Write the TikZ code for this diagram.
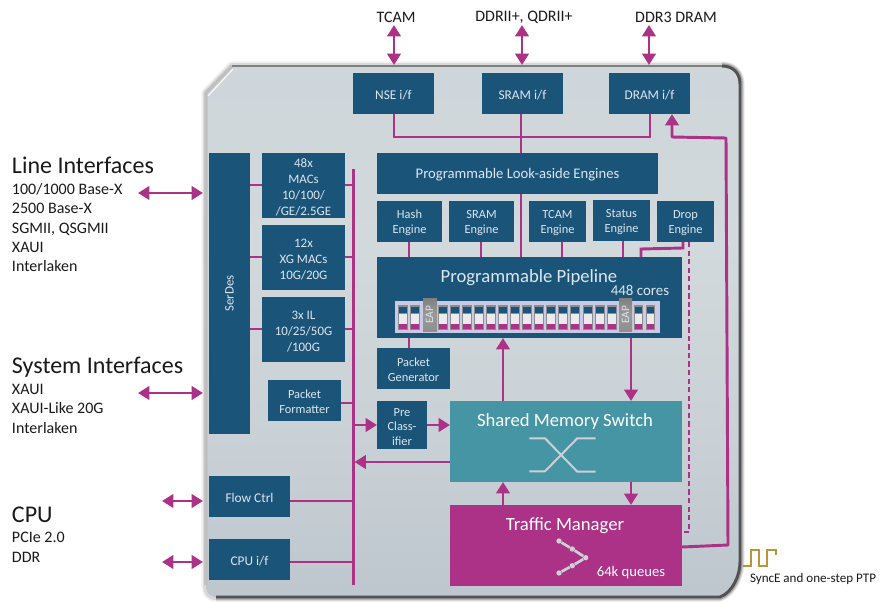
\documentclass[tikz,border=0pt]{standalone}
\usepackage{fontspec}
\setmainfont{Carlito}
\usetikzlibrary{arrows.meta,calc}
\definecolor{boxblue}{HTML}{1B5479}
\definecolor{boxtext}{HTML}{DCE6EE}
\definecolor{mag}{HTML}{AB3287}
\definecolor{tealbox}{HTML}{4695A5}
\definecolor{gold}{HTML}{B8973A}
\definecolor{iconcol}{HTML}{CDD1D5}
\definecolor{c0}{HTML}{A4ADB7}
\definecolor{c1}{HTML}{BAC3CB}
\definecolor{c2}{HTML}{C9D1D6}
\definecolor{c3}{HTML}{D1D9DC}
\definecolor{c4}{HTML}{CDD5DA}
\definecolor{c5}{HTML}{BEC5CC}
\pgfdeclareverticalshading{chipfill}{100bp}{
  color(0bp)=(c0); color(20bp)=(c1); color(40bp)=(c2); color(58bp)=(c3);
  color(80bp)=(c4); color(100bp)=(c5)}
\pgfdeclareverticalshading{eapfill}{100bp}{
  color(0bp)=(black!48); color(50bp)=(black!40); color(100bp)=(black!60)}
\tikzset{
  x=.75pt,y=-.75pt,
  box/.style={fill=boxblue,text=boxtext,inner sep=0pt,outer sep=0pt,align=center,font=\fontsize{9.3}{11.2}\selectfont},
  mid/.style={font=\fontsize{10}{12}\selectfont},
  big/.style={font=\fontsize{14}{16}\selectfont},
  link/.style={draw=mag,line width=2.2pt},
  thin link/.style={draw=mag,line width=1.6pt},
  arr/.style={link,-{Triangle[length=8.5pt,width=10pt]}},
  dbl/.style={link,{Triangle[length=8.5pt,width=10pt]}-{Triangle[length=8.5pt,width=10pt]}},
  ext/.style={inner sep=0pt,outer sep=0pt,text=black!90,anchor=mid west,font=\fontsize{12}{14}\selectfont},
  head/.style={ext,font=\fontsize{18}{20}\selectfont},
  top/.style={inner sep=0pt,text=black!90,font=\fontsize{12}{14}\selectfont},
  inlabel/.style={inner sep=0pt,text=white,font=\fontsize{14}{16}\selectfont},
  iconline/.style={draw=iconcol,line width=1.5pt},
  icondot/.style={circle,fill=iconcol,inner sep=0pt,minimum size=4pt},
}
\newcommand\up{\rule{0pt}{9pt}}
\newcommand\bx[7][]{\node[box,#1,minimum width={(#5-#3)*0.75pt},minimum height={(#6-#4)*0.75pt}] (#2) at ({(#3+#5)/2},{(#4+#6)/2}) {#7};}
\newcommand\chippath{(206,93) -- (232,66) -- (722,66) .. controls (733,66) and (740,73) .. (740,84) -- (740,562) .. controls (740,575) and (733,592) .. (720,597) -- (216,597) .. controls (209,597) and (206,592) .. (206,585) -- cycle}
\newcommand\edgepath{(722,66) .. controls (733,66) and (740,73) .. (740,84) -- (740,562) .. controls (740,575) and (733,592) .. (720,597) -- (216,597)}
\begin{document}
\begin{tikzpicture}
\useasboundingbox (0,0) rectangle (882,603);
% chip body
\draw[black,opacity=.06,line width=7pt,line join=round] \chippath;
\draw[black,opacity=.10,line width=4.5pt,line join=round] \chippath;
\draw[black,opacity=.10,line width=6pt,line join=round] \edgepath;
\draw[black,opacity=.14,line width=4pt,line join=round] \edgepath;
\path[shading=chipfill,shading angle=0] \chippath;
\draw[white!75!black,line width=2.4pt,line join=round] (206,585) -- (206,93) -- (232,66);
\draw[white,line width=.7pt] (208,96) -- (233,69);
\draw[black!50,line width=1.3pt,line join=round] (232,66) -- (722,66);
\draw[black!68,line width=2.2pt,line join=round] \edgepath;
% boxes
\bx[font=\fontsize{10}{12}\selectfont]{nse}{353}{73}{434}{114}{\up NSE i/f}
\bx[font=\fontsize{10}{12}\selectfont]{sramif}{482}{73}{563}{114}{\up SRAM i/f}
\bx[font=\fontsize{10}{12}\selectfont]{dramif}{609}{73}{690}{114}{\up DRAM i/f}
\bx[font=\fontsize{11}{13}\selectfont]{look}{377}{153}{658}{194}{\up Programmable Look-aside Engines}
\bx{hash}{377}{201}{442}{242}{\up Hash\\Engine}
\bx{srameng}{449}{201}{514}{242}{\up SRAM\\Engine}
\bx{tcameng}{529}{201}{586}{242}{\up TCAM\\Engine}
\bx{status}{593}{200}{650}{241}{\up Status\\Engine}
\bx{drop}{657}{201}{714}{242}{\up Drop\\Engine}
\bx[big]{pipe}{377}{257}{682}{338}{\vphantom{P}}
\bx{pktgen}{377}{348}{450}{389}{\up Packet\\Generator}
\bx{serdes}{209}{153}{250}{434}{\rotatebox{90}{\fontsize{9.7}{12}\selectfont SerDes}}
\bx[font=\fontsize{9.7}{12}\selectfont]{macs}{262}{153}{345}{218}{\up 48x\\MACs\\10/100/\\/GE/2.5GE}
\bx[font=\fontsize{9.7}{12}\selectfont]{xg}{262}{225}{345}{290}{\up 12x\\XG MACs\\10G/20G}
\bx[font=\fontsize{9.7}{12}\selectfont]{il}{262}{297}{345}{362}{\up 3x IL\\10/25/50G\\/100G}
\bx{fmt}{268}{380}{341}{421}{\up Packet\\Formatter}
\bx{pre}{377}{401}{427}{449}{\up Pre\\Class-\\ifier}
\bx[mid]{flow}{209}{476}{290}{517}{\up Flow Ctrl}
\bx[mid]{cpuif}{209}{539}{290}{580}{\up CPU i/f}
\bx[fill=tealbox]{switch}{450}{401}{682}{482}{\vphantom{P}}
\bx[fill=mag]{tm}{450}{505}{682}{586}{\vphantom{P}}
% box titles
\node[inlabel,text=boxtext] (pipet) at (529,278) {Programmable Pipeline};
\node[inlabel,text=boxtext,font=\fontsize{11.2}{13}\selectfont] (cores) at (640,290) {448 cores};
\node[inlabel] (swt) at (565,422) {Shared Memory Switch};
\node[inlabel] (tmt) at (565,526) {Traffic Manager};
\node[inlabel,font=\fontsize{11}{13}\selectfont] (q) at (631,573) {64k queues};
% core strip
\fill[white!88!blue!90!black] (395,301) rectangle (660,333);
\foreach \cx in {398.3,410.3,438.3,450.3,462.3,474.3,486.3,498.3,510.3,522.3,534.3,546.3,558.3,570.3,583.3,595.3,607.3,634,646}{
  \fill[black!45] (\cx,305) rectangle ++(9.3,25);
  \fill[boxblue] (\cx+1,306.5) rectangle ++(7.3,6.5);
  \fill[white!92!black] (\cx+1,314) rectangle ++(7.3,9.5);
  \fill[mag] (\cx+1,324) rectangle ++(7.3,5);
}
\path[shading=eapfill,shading angle=0] (423,298) rectangle (437,331);
\path[shading=eapfill,shading angle=0] (619,298) rectangle (632,331);
\node[inlabel,text=boxtext,rotate=90,font=\fontsize{8.5}{9}\selectfont] (eapa) at (429.5,315) {EAP};
\node[inlabel,text=boxtext,rotate=90,font=\fontsize{8.5}{9}\selectfont] (eapb) at (625.5,315) {EAP};
% icons
\draw[iconline] (529.3,438.3) -- (545,438.3) -- (577.3,471.7) -- (595.7,471.7);
\draw[iconline] (529.3,471.3) -- (545,471.3) -- (577.3,438.3) -- (595.7,438.3);
\node[icondot] (d1) at (559,541) {};
\node[icondot] (d2) at (572.3,549) {};
\node[icondot] (d3) at (585.7,557.7) {};
\node[icondot] (d4) at (572.3,565.7) {};
\node[icondot] (d5) at (559,573) {};
\draw[iconcol,line width=2pt] (d1) -- (d2) -- (d3) -- (d4) -- (d5);
% internal bus
\coordinate (bustop) at (353.5,169);
\coordinate (busbot) at (353.5,585);
\draw[link] (bustop) -- (busbot);
\draw[link] (serdes.east |- 0,185) -- (macs.west |- 0,185);
\draw[link] (serdes.east |- 0,257) -- (xg.west |- 0,257);
\draw[link] (serdes.east |- 0,329) -- (il.west |- 0,329);
\draw[link] (macs.east |- 0,185) -- (bustop |- 0,185);
\draw[link] (xg.east |- 0,257) -- (bustop |- 0,257);
\draw[link] (il.east |- 0,329) -- (bustop |- 0,329);
\draw[link] (fmt.east |- 0,403) -- (bustop |- 0,403);
\draw[link] (flow.east |- 0,501) -- (bustop |- 0,501);
\draw[link] (cpuif.east |- 0,562) -- (bustop |- 0,562);
\draw[arr] (bustop |- pre.west) -- (pre.west);
\draw[arr] (pre.east) -- (switch.west |- pre.east);
\draw[arr] (switch.west |- 0,462) -- (354.5,462);
% top interconnect
\coordinate (topl) at (394,137);
\coordinate (topr) at (650,137);
\draw[link] (nse.south -| topl) -- (topl) -- (topr) -- (dramif.south -| topr);
\draw[link] (sramif.south -| 521,0) -- (look.north -| 521,0);
\draw[link] (look.south -| 521,0) -- (pipe.north -| 521,0);
\draw[link] (hash.south -| 409,0) -- (pipe.north -| 409,0);
\draw[link] (srameng.south -| 481,0) -- (pipe.north -| 481,0);
\draw[link] (tcameng.south -| 562,0) -- (pipe.north -| 562,0);
\draw[link] (status.south -| 623,0) -- (pipe.north -| 623,0);
\coordinate (dropa) at (683,248);
\coordinate (dropb) at (641,249);
\draw[link] (drop.south -| dropa) -- (dropa) -- (dropb) -- (pipe.north -| dropb);
\coordinate (dashbend) at (689,532);
\draw[thin link,dash pattern=on 4pt off 2.4pt] (drop.south -| dashbend) -- (dashbend) -- (tm.east |- dashbend);
\draw[link] (pipe.south -| 409,0) -- (pktgen.north -| 409,0);
% pipeline, switch, TM arrows
\draw[arr] (switch.north -| 503,0) -- (pipe.south -| 503,0);
\draw[arr] (pipe.south -| 631,0) -- (switch.north -| 631,0);
\draw[arr] (tm.north -| 503,0) -- (switch.south -| 503,0);
\draw[arr] (switch.south -| 631,0) -- (tm.north -| 631,0);
% TM to DRAM
\coordinate (fba) at (728,545);
\coordinate (fbb) at (726,138);
\coordinate (fbc) at (672,137);
\draw[arr,line join=round] (tm.east |- 0,547) -- (fba) -- (fbb) -- (fbc) -- (dramif.south -| fbc);
% external arrows
\coordinate (e1a) at (394,25); \coordinate (e1b) at (394,65);
\coordinate (e2a) at (522,25); \coordinate (e2b) at (522,65);
\coordinate (e3a) at (649,25); \coordinate (e3b) at (649,65);
\draw[dbl] (e1a) -- (e1b);
\draw[dbl] (e2a) -- (e2b);
\draw[dbl] (e3a) -- (e3b);
\coordinate (l1a) at (138,193); \coordinate (l1b) at (203,193);
\coordinate (l2a) at (138,393); \coordinate (l2b) at (203,393);
\coordinate (l3a) at (162,501); \coordinate (l3b) at (203,501);
\coordinate (l4a) at (162,562); \coordinate (l4b) at (203,562);
\draw[dbl] (l1a) -- (l1b);
\draw[dbl] (l2a) -- (l2b);
\draw[dbl] (l3a) -- (l3b);
\draw[dbl] (l4a) -- (l4b);
% external text
\node[top] (t1) at (396,17) {TCAM};
\node[top] (t2) at (524,17) {DDRII+, QDRII+};
\node[top] (t3) at (676,17) {DDR3 DRAM};
\node[head] (h1) at (12,170) {Line Interfaces};
\node[ext] (a1) at (12,191) {100/1000 Base-X};
\node[ext] (a2) at (12,210) {2500 Base-X};
\node[ext] (a3) at (12,230) {SGMII, QSGMII};
\node[ext] (a4) at (12,249) {XAUI};
\node[ext] (a5) at (12,268) {Interlaken};
\node[head] (h2) at (12,370) {System Interfaces};
\node[ext] (b1) at (12,391) {XAUI};
\node[ext] (b2) at (12,410) {XAUI-Like 20G};
\node[ext] (b3) at (12,430) {Interlaken};
\node[head] (h3) at (12,519) {CPU};
\node[ext] (c1) at (12,539) {PCIe 2.0};
\node[ext] (c2) at (12,559) {DDR};
% SyncE
\draw[gold,line width=.9pt] (743,566) -- (751,566) -- (751,550) -- (759,550) -- (759,566) -- (767,566) -- (767,550) -- (776,550) -- (776,555);
\node[ext,font=\fontsize{9.8}{11}\selectfont] (sync) at (750,579) {SyncE and one-step PTP};
\end{tikzpicture}
\end{document}
